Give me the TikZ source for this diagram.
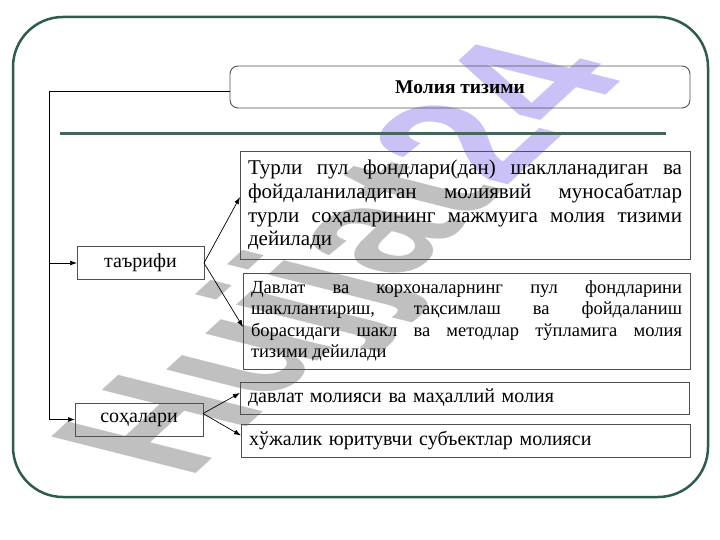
\documentclass[tikz,border=0pt]{standalone}
\usepackage{fontspec}
\setmainfont{Liberation Serif}
\newfontfamily\wmfont{Liberation Sans}
\usetikzlibrary{arrows.meta}

\definecolor{rahmen_gruen}{RGB}{46,91,76}
\definecolor{linie_gruen}{RGB}{66,104,90}
\definecolor{kasten_grau}{RGB}{80,80,80}
\definecolor{wm_grau}{RGB}{192,192,192}
\definecolor{wm_lila}{RGB}{202,194,246}

\begin{document}
\begin{tikzpicture}[
      x=1pt,
      y=-1pt,
      every node/.style={
        draw=kasten_grau,
        line width=0.9pt,
        inner sep=0pt,
        outer sep=0pt
      },
      pfeil/.style={
        -{Latex[length=7pt,width=5pt]},
        line width=0.7pt
      },
      textkasten/.style={
        align=justify,
        inner xsep=8pt
      }
    ]

      \useasboundingbox (0,0) rectangle (720,540);

      % Wasserzeichen
      \node[draw=none, anchor=base west, transform shape,
        cm={1.14,1.05,-2.1,0.53,(188,480)},
        text=wm_grau, font=\wmfont\bfseries\fontsize{100}{100}\selectfont]
        (wz) at (0,0) {Hujjat\textcolor{wm_lila}{24}};

      % Rahmen
      \draw [rahmen_gruen, line width=2.5pt, rounded corners=50pt] (13,17) rectangle (708,497);

      % Titel
      \node [rounded corners=8pt, minimum width=460pt, minimum height=42pt,
        font=\bfseries\fontsize{19.5}{22}\selectfont] (titel) at (460,87) {Молия тизими};
      \draw [linie_gruen, line width=3pt] (60,134) -- (666,134);

      % Kaesten links
      \node [minimum width=127pt, minimum height=33pt, font=\fontsize{20}{24}\selectfont] (tarif) at (140.5,263) {таърифи};
      \node [minimum width=128pt, minimum height=33pt, font=\fontsize{20}{24}\selectfont] (soha) at (139,419.5) {соҳалари};

      % Kaesten rechts
      \node [textkasten, text width=434pt, minimum height=108pt, font=\fontsize{21}{23.7}\selectfont] (def1) at (465,205)
        {Турли пул фондлари(дан) шаклланадиган ва\linebreak фойдаланиладиган молиявий муносабатлар\linebreak турли соҳаларининг мажмуига молия тизими\linebreak дейилади};
      \node [textkasten, text width=431pt, minimum height=96pt, font=\fontsize{18.5}{21.5}\selectfont] (def2) at (466.5,321)
        {Давлат ва корхоналарнинг пул фондларини\linebreak шакллантириш, тақсимлаш ва фойдаланиш\linebreak борасидаги шакл ва методлар тўпламига молия\linebreak тизими дейилади};
      \node [textkasten, align=left, text width=433pt, minimum height=32pt, font=\fontsize{20}{24}\selectfont] (davlat) at (464.5,398)
        {давлат молияси ва маҳаллий молия};
      \node [textkasten, align=left, text width=433pt, minimum height=33pt, font=\fontsize{20}{24}\selectfont] (xojalik) at (465.5,440.5)
        {хўжалик юритувчи субъектлар молияси};

      % Linien
      \coordinate (ecke) at (49,91);
      \draw [line width=0.7pt] (titel.west |- ecke) -- (ecke) -- (ecke |- soha.west);
      \draw [pfeil] (ecke |- tarif.west) -- (tarif.west);
      \draw [pfeil] (ecke |- soha.west) -- (soha.west);

      % Pfeile
      \draw [pfeil] (tarif.east) -- ([yshift=8pt]def1.west);
      \draw [pfeil] (tarif.east) -- ([yshift=-6pt]def2.west);
      \draw [pfeil] ([yshift=6pt]soha.east) -- ([yshift=5pt]davlat.west);
      \draw [pfeil] ([yshift=6pt]soha.east) -- ([yshift=5pt]xojalik.west);
    \end{tikzpicture}
\end{document}
